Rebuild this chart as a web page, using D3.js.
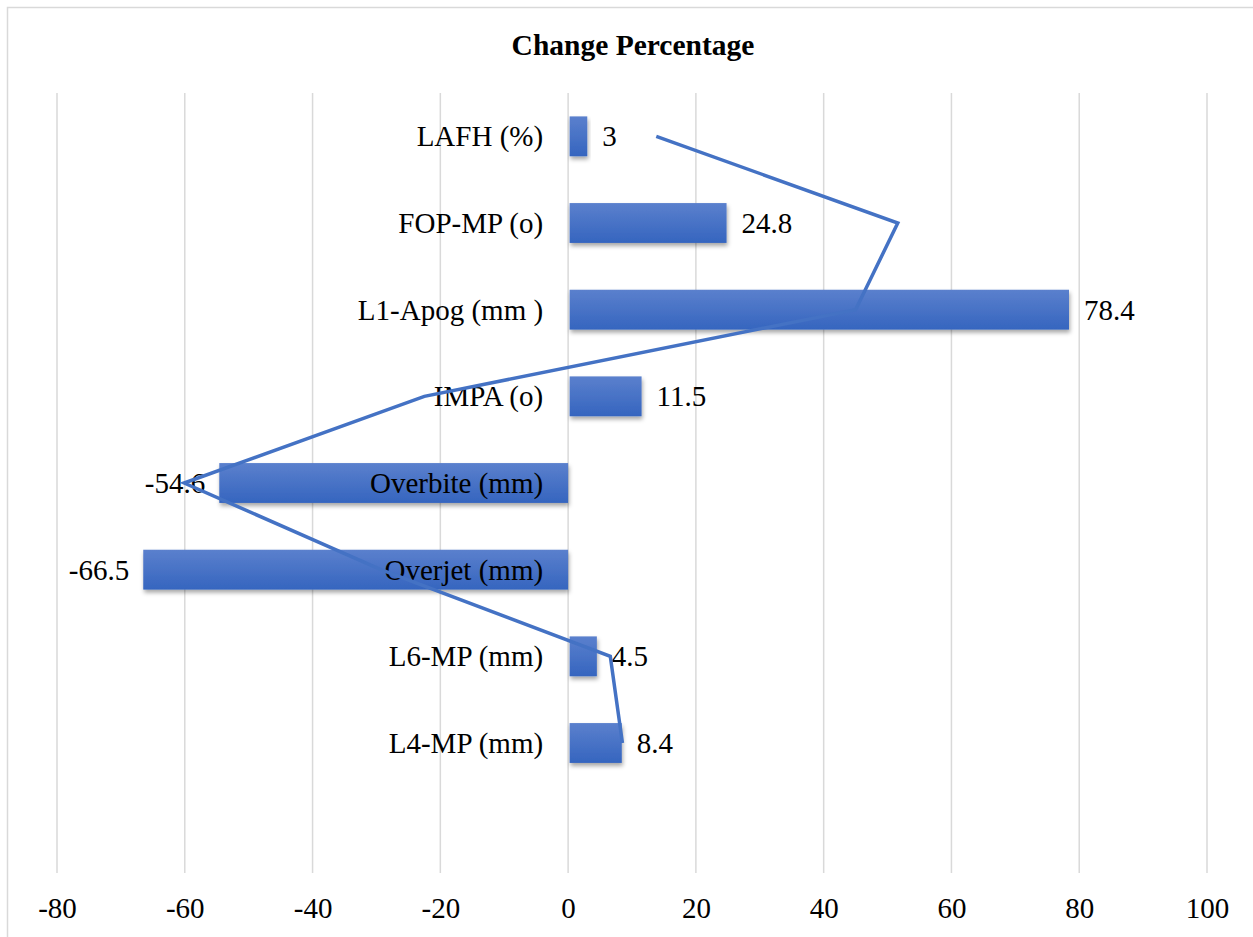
<!DOCTYPE html>
<html>
<head>
<meta charset="utf-8">
<script src="https://cdn.jsdelivr.net/npm/d3@7/dist/d3.min.js"></script>
<style>
  html, body { margin: 0; padding: 0; background: #fff; }
  svg text { font-family: "Liberation Serif", "Times New Roman", serif; fill: #000; }
</style>
</head>
<body>
<svg id="chart" width="1253" height="937"></svg>
<script>
// Categories listed top to bottom; the last slot is an empty row
const categories = ["LAFH (%)", "FOP-MP (o)", "L1-Apog (mm )", "IMPA (o)", "Overbite (mm)", "Overjet (mm)", "L6-MP (mm)", "L4-MP (mm)", ""];
// Bar series: change percentage
const barValues = [3, 24.8, 78.4, 11.5, -54.6, -66.5, 4.5, 8.4, null];
// Line series drawn across the same categories
const lineValues = [13.8, 51.6, 45.0, -22.5, -60.1, -29.3, 6.6, 8.5, null];
// Value axis ticks
const xTicks = [-80, -60, -40, -20, 0, 20, 40, 60, 80, 100];

const title = "Change Percentage";
const FONT = "Liberation Serif, Times New Roman, serif";

const svg = d3.select("#chart");
const W = 1253, H = 937;

const x = d3.scaleLinear().domain([-80, 100]).range([57, 1207]);
const y = d3.scaleBand()
  .domain(categories.map((c, i) => i))
  .range([93, 873])
  .paddingInner(0.54)
  .paddingOuter(0.27);

const defs = svg.append("defs");
const grad = defs.append("linearGradient")
  .attr("id", "barGrad").attr("x1", 0).attr("y1", 0).attr("x2", 0).attr("y2", 1);
grad.append("stop").attr("offset", "0%").attr("stop-color", "#5b80cd");
grad.append("stop").attr("offset", "100%").attr("stop-color", "#3565bf");

const shadow = defs.append("filter").attr("id", "barShadow")
  .attr("x", "-10%").attr("y", "-20%").attr("width", "130%").attr("height", "160%");
shadow.append("feDropShadow")
  .attr("dx", 1).attr("dy", 3).attr("stdDeviation", 2.2)
  .attr("flood-color", "#000").attr("flood-opacity", 0.35);

// Chart area border
svg.append("rect")
  .attr("x", 7.5).attr("y", 7.5)
  .attr("width", W + 20).attr("height", H + 20)
  .attr("fill", "none").attr("stroke", "#d9d9d9").attr("stroke-width", 1.5);

// Title
svg.append("text")
  .attr("x", 633).attr("y", 55)
  .attr("text-anchor", "middle")
  .attr("font-size", 29.5)
  .attr("font-weight", "bold")
  .text(title);

// Vertical gridlines
svg.append("g").selectAll("line").data(xTicks).join("line")
  .attr("x1", d => x(d)).attr("x2", d => x(d))
  .attr("y1", 93).attr("y2", 873)
  .attr("stroke", "#d9d9d9").attr("stroke-width", 1.5);

// Tick labels along the bottom
const axis = d3.axisBottom(x).tickValues(xTicks).tickSize(0).tickPadding(0)
  .tickFormat(d => String(d));
const axisG = svg.append("g").attr("transform", "translate(0,897)").call(axis);
axisG.attr("font-family", FONT).attr("font-size", 29);
axisG.select(".domain").remove();
axisG.selectAll("text")
  .attr("fill", "#000")
  .attr("dy", "0.71em");

const rows = categories.map((c, i) => ({ i, cat: c, v: barValues[i], lv: lineValues[i] }));
const barRows = rows.filter(d => d.v != null);

// Bars
svg.append("g").selectAll("rect").data(barRows).join("rect")
  .attr("x", d => Math.min(x(0), x(d.v)) + (d.v >= 0 ? 1.5 : 0))
  .attr("y", d => y(d.i))
  .attr("width", d => Math.abs(x(d.v) - x(0)) - (d.v >= 0 ? 1.5 : 0))
  .attr("height", y.bandwidth())
  .attr("fill", "url(#barGrad)")
  .attr("filter", "url(#barShadow)");

// Category labels, right aligned just left of zero
svg.append("g").selectAll("text").data(rows.filter(d => d.cat !== "")).join("text")
  .attr("x", x(0) - 25)
  .attr("y", d => y(d.i) + y.bandwidth() / 2)
  .attr("dy", "0.35em")
  .attr("text-anchor", "end")
  .attr("font-size", 29)
  .text(d => d.cat);

// Value labels at the bar ends
svg.append("g").selectAll("text").data(barRows).join("text")
  .attr("x", d => d.v >= 0 ? x(d.v) + 15 : x(d.v) - 14)
  .attr("y", d => y(d.i) + y.bandwidth() / 2)
  .attr("dy", "0.35em")
  .attr("text-anchor", d => d.v >= 0 ? "start" : "end")
  .attr("font-size", 29)
  .text(d => d.v);

// Line series
const line = d3.line()
  .defined(d => d.lv != null)
  .x(d => x(d.lv))
  .y(d => y(d.i) + y.bandwidth() / 2);
svg.append("path")
  .datum(rows)
  .attr("d", line)
  .attr("fill", "none")
  .attr("stroke", "#4472c4")
  .attr("stroke-width", 3.5)
  .attr("stroke-linejoin", "miter");
</script>
</body>
</html>
